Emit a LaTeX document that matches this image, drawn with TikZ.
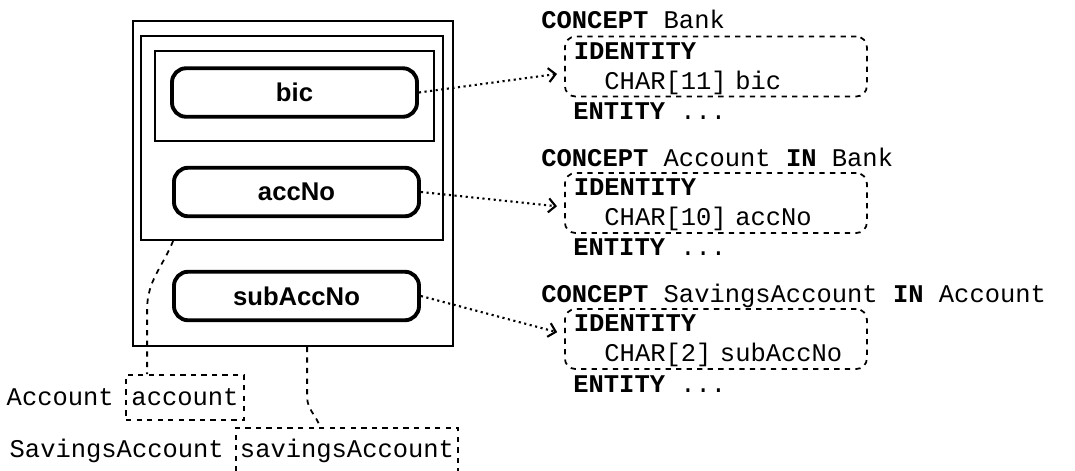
\documentclass[tikz,border=0pt]{standalone}
\usepackage{fontspec}
\setsansfont{Liberation Sans}
\setmonofont{Liberation Mono}
\usetikzlibrary{arrows.meta,positioning,calc}
\tikzset{
    frame/.style={draw, line width=1pt, inner sep=0pt},
    attr/.style={draw, line width=2.2pt, rounded corners=8pt, minimum width=4.9cm, minimum height=0.97cm,
        font=\sffamily\bfseries\fontsize{14.6pt}{17pt}\selectfont},
    code/.style={inner sep=0pt, anchor=base west, font=\ttfamily\fontsize{14.5pt}{17pt}\selectfont},
    identbox/.style={draw, dashed, line width=1pt, rounded corners=6pt, anchor=west, minimum height=1.2cm,
        text width=5.68cm, text height=12pt, inner xsep=0.18cm, inner ysep=0pt, align=left,
        font=\ttfamily\fontsize{14.5pt}{17pt}\selectfont},
    varbox/.style={draw, dashed, line width=1pt, inner sep=0pt, minimum height=0.9cm,
        font=\ttfamily\fontsize{14.5pt}{17pt}\selectfont},
    conn/.style={dashed, line width=1pt},
    link/.style={dotted, line width=1.2pt, ->, shorten >=4pt}
}

\begin{document}
\begin{tikzpicture}[>={Straight Barb[length=4pt,width=8pt]}]
    \clip (0,0) rectangle (21.5,-9.4);

    % nested identity scopes
    \node[frame, minimum width=6.4cm, minimum height=6.5cm] (savbox) at (5.86,-3.67) {};
    \node[frame, minimum width=6.04cm, minimum height=4.08cm] (accbox) at (5.84,-2.76) {};
    \node[frame, minimum width=5.58cm, minimum height=1.8cm] (bankbox) at (5.89,-1.92) {};

    % identity attributes
    \node[attr] (bic) at (5.89,-1.85) {bic};
    \node[attr] (accno) at (5.93,-3.84) {accNo};
    \node[attr] (subaccno) at (5.93,-5.92) {subAccNo};

    % concept definitions
    \node[code] (concept1) at (10.82,-0.56) {\textbf{CONCEPT} Bank};
    \node[identbox] (id1) at (11.28,-1.33) {\textbf{IDENTITY}\\\hspace*{1.2em}CHAR[11] bic};
    \node[code] (ent1) at (11.46,-2.38) {\textbf{ENTITY} ...};

    \node[code] (concept2) at (10.82,-3.32) {\textbf{CONCEPT} Account \textbf{IN} Bank};
    \node[identbox] (id2) at (11.28,-4.06) {\textbf{IDENTITY}\\\hspace*{1.2em}CHAR[10] accNo};
    \node[code] (ent2) at (11.46,-5.10) {\textbf{ENTITY} ...};

    \node[code] (concept3) at (10.82,-6.04) {\textbf{CONCEPT} SavingsAccount \textbf{IN} Account};
    \node[identbox] (id3) at (11.28,-6.78) {\textbf{IDENTITY}\\\hspace*{1.2em}CHAR[2] subAccNo};
    \node[code] (ent3) at (11.46,-7.84) {\textbf{ENTITY} ...};

    % attributes point to their definitions
    \draw[link] (bic.east) -- ([yshift=-0.13cm]id1.west);
    \draw[link] (accno.east) -- ([yshift=-0.08cm]id2.west);
    \draw[link] (subaccno.east) -- ([yshift=0.1cm]id3.west);

    % variables
    \node[varbox, minimum width=2.36cm] (acclbl) at (3.70,-7.95) {account};
    \node[code, left=0.22cm of acclbl.base west, anchor=base east] (acctype) {Account};
    \node[varbox, minimum width=4.44cm] (savlbl) at (6.94,-9.01) {savingsAccount};
    \node[code, left=0.22cm of savlbl.base west, anchor=base east] (savtype) {SavingsAccount};

    % variables refer to the scopes
    \draw[conn] ([xshift=0.66cm]accbox.south west) to[out=-112,in=90]
        ([xshift=0.44cm,yshift=1.3cm]acclbl.north west) -- ([xshift=0.44cm]acclbl.north west);
    \draw[conn] ([xshift=3.5cm]savbox.south west) -- ++(0,-1.0) to[out=-90,in=108]
        ([xshift=1.7cm]savlbl.north west);
\end{tikzpicture}
\end{document}
